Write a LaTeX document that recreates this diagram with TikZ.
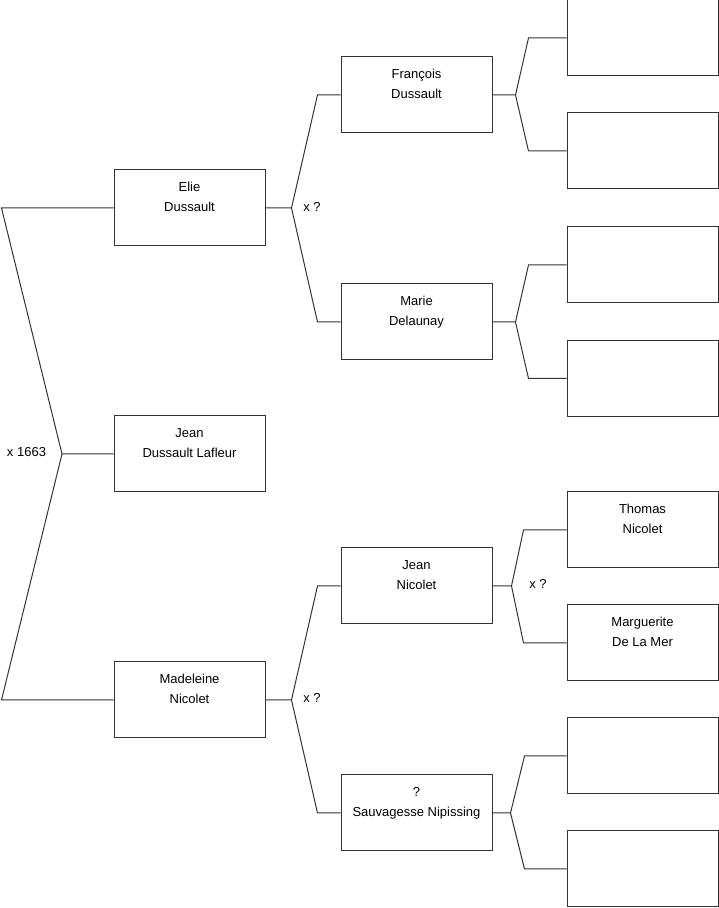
\documentclass[tikz,border=0pt]{standalone}
\usepackage{fontspec}
\setmainfont{Liberation Sans}
\usetikzlibrary{calc}
\tikzset{
  x=1pt, y=1pt,
  person/.style={draw=black!80, line width=1pt, rectangle, minimum width=151pt, minimum height=76pt,
    inner sep=0pt, align=center, font=\fontsize{13}{20}\selectfont},
  link/.style={draw=black!80, line width=1pt},
  lbl/.style={font=\fontsize{13}{16}\selectfont, inner sep=0pt}
}
\begin{document}
\begin{tikzpicture}
\useasboundingbox (0,0) rectangle (719,908);
% generation 1
\node[person] (elie) at (189.5,700) {\strut Elie\\\strut Dussault\\\strut};
\node[person] (jean) at (189.5,454) {\strut Jean\\\strut Dussault Lafleur\\\strut};
\node[person] (madeleine) at (189.5,208) {\strut Madeleine\\\strut Nicolet\\\strut};
% generation 2
\node[person] (francois) at (416.5,813) {\strut François\\\strut Dussault\\\strut};
\node[person] (marie) at (416.5,586) {\strut Marie\\\strut Delaunay\\\strut};
\node[person] (jeann) at (416.5,322) {\strut Jean\\\strut Nicolet\\\strut};
\node[person] (sauv) at (416.5,95) {\strut ?\\\strut Sauvagesse Nipissing\\\strut};
% generation 3
\node[person] (g1) at (642.5,870) {};
\node[person] (g2) at (642.5,757) {};
\node[person] (g3) at (642.5,643) {};
\node[person] (g4) at (642.5,529.5) {};
\node[person] (thomas) at (642.5,378) {\strut Thomas\\\strut Nicolet\\\strut};
\node[person] (marg) at (642.5,265) {\strut Marguerite\\\strut De La Mer\\\strut};
\node[person] (g7) at (642.5,152) {};
\node[person] (g8) at (642.5,39) {};
% root connectors
\coordinate (ra) at (62,454);
\draw[link] (jean.west) -- (ra) -- ([xshift=-112pt]elie.west) -- (elie.west);
\draw[link] (ra) -- ([xshift=-112pt]madeleine.west) -- (madeleine.west);
% elie
\coordinate (ea) at ([xshift=26pt]elie.east);
\draw[link] (elie.east) -- (ea) -- ([xshift=-23pt]francois.west) -- (francois.west);
\draw[link] (ea) -- ([xshift=-23pt]marie.west) -- (marie.west);
% madeleine
\coordinate (ma) at ([xshift=26pt]madeleine.east);
\draw[link] (madeleine.east) -- (ma) -- ([xshift=-23pt]jeann.west) -- (jeann.west);
\draw[link] (ma) -- ([xshift=-23pt]sauv.west) -- (sauv.west);
% francois
\coordinate (fa) at ([xshift=23pt]francois.east);
\draw[link] (francois.east) -- (fa) -- ([xshift=-38pt]g1.west) -- (g1.west);
\draw[link] (fa) -- ([xshift=-38pt]g2.west) -- (g2.west);
% marie
\coordinate (mra) at ([xshift=23pt]marie.east);
\draw[link] (marie.east) -- (mra) -- ([xshift=-38pt]g3.west) -- (g3.west);
\draw[link] (mra) -- ([xshift=-38pt]g4.west) -- (g4.west);
% jean nicolet
\coordinate (ja) at ([xshift=19pt]jeann.east);
\draw[link] (jeann.east) -- (ja) -- ([xshift=-43pt]thomas.west) -- (thomas.west);
\draw[link] (ja) -- ([xshift=-43pt]marg.west) -- (marg.west);
% sauvagesse
\coordinate (sa) at ([xshift=18pt]sauv.east);
\draw[link] (sauv.east) -- (sa) -- ([xshift=-42pt]g7.west) -- (g7.west);
\draw[link] (sa) -- ([xshift=-42pt]g8.west) -- (g8.west);
% marriage labels
\node[lbl] (m1) at (26.5,456) {x 1663};
\node[lbl] (m2) at (312,701) {x ?};
\node[lbl] (m3) at (312,210) {x ?};
\node[lbl] (m4) at (538,324) {x ?};
\end{tikzpicture}
\end{document}
